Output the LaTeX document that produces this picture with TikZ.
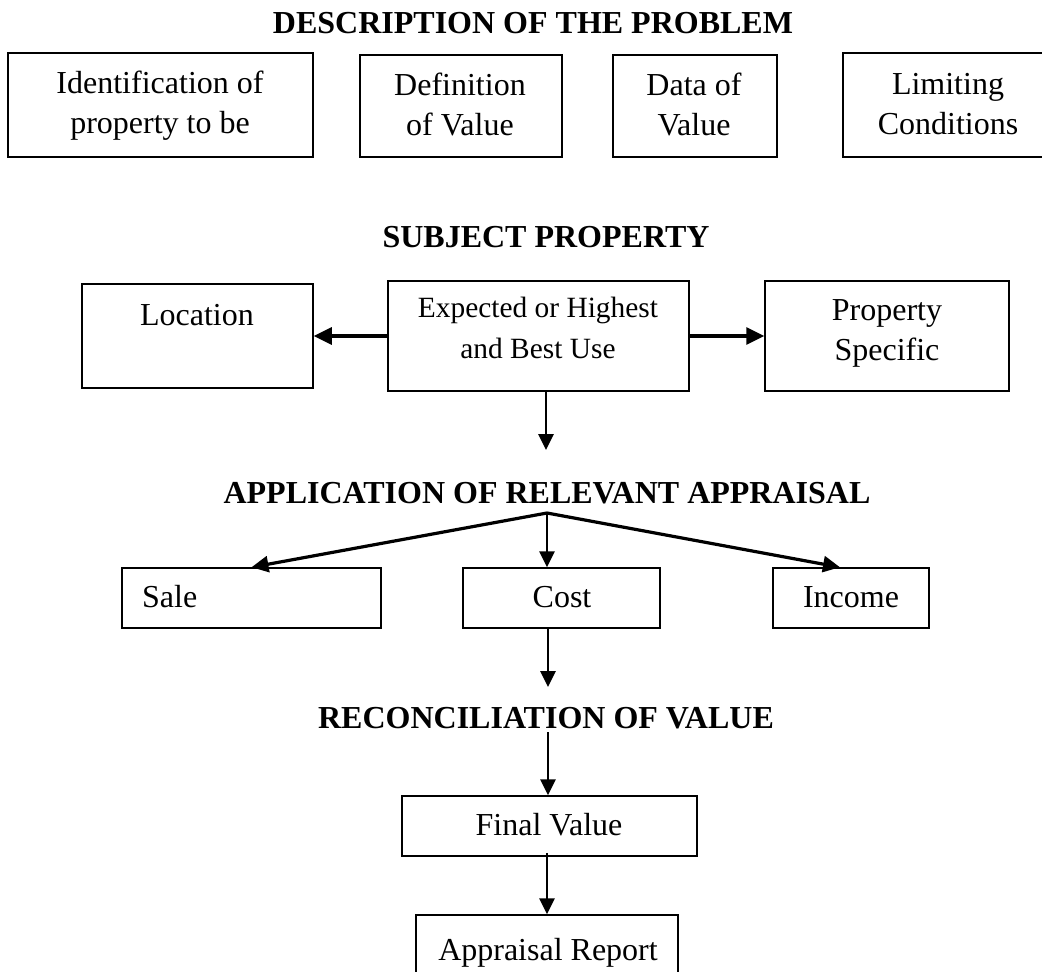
\documentclass[tikz,border=0pt]{standalone}
\usepackage{fontspec}
\setmainfont{Liberation Serif}
\usetikzlibrary{arrows.meta}
\begin{document}
\begin{tikzpicture}[x=1pt,y=-1pt,
  box/.style={draw, line width=1.5pt, inner sep=0pt},
  txt/.style={inner sep=0pt, font=\fontsize{32}{40}\selectfont, align=center},
  stxt/.style={inner sep=0pt, font=\fontsize{29.4}{41}\selectfont, align=center},
  ttl/.style={inner sep=0pt, font=\fontsize{32}{40}\selectfont\bfseries, anchor=base},
  arr/.style={-{Triangle[length=16pt,width=15pt]}, line width=2.8pt},
  harr/.style={-{Triangle[length=18pt,width=17pt]}, line width=3.2pt},
  darr/.style={-{Triangle[length=17pt,width=16pt]}, line width=3.2pt}]
\useasboundingbox (0,0) rectangle (1042,972);
\clip (0,0) rectangle (1042,972);

% titles
\node[ttl] (t1) at (533,33) {DESCRIPTION OF THE PROBLEM};
\node[ttl] (t2) at (546,247) {SUBJECT PROPERTY};
\node[ttl] (t3) at (547,503) {APPLICATION OF RELEVANT APPRAISAL};
\node[ttl] (t4) at (546,728) {RECONCILIATION OF VALUE};

% row 1
\node[box, minimum width=305pt, minimum height=104pt] (b1) at (160.5,105) {};
\node[box, minimum width=202pt, minimum height=102pt] (b2) at (461,106) {};
\node[box, minimum width=164pt, minimum height=102pt] (b3) at (695,106) {};
\node[box, minimum width=212pt, minimum height=104pt] (b4) at (949,105) {};
\node[txt, anchor=north] (tb1) at (160,71) {Identification of\\property to be};
\node[txt, anchor=north] (tb2) at (460,73) {Definition\\of Value};
\node[txt, anchor=north] (tb3) at (694,73) {Data of\\Value};
\node[txt, anchor=north] (tb4) at (948,73) {Limiting\\Conditions};

% row 2
\node[box, minimum width=231pt, minimum height=104pt] (loc) at (197.5,336) {};
\node[box, minimum width=301pt, minimum height=110pt] (hbu) at (538.5,336) {};
\node[box, minimum width=244pt, minimum height=110pt] (ps) at (887,336) {};
\node[txt, anchor=base] (tloc) at (197,325) {Location};
\node[stxt, anchor=north] (thbu) at (538,297) {Expected or Highest\\and Best Use};
\node[txt, anchor=north] (tps) at (887,299) {Property\\Specific};

% row 3
\node[box, minimum width=259pt, minimum height=60pt] (sale) at (251.5,598) {};
\node[box, minimum width=197pt, minimum height=60pt] (cost) at (561.5,598) {};
\node[box, minimum width=156pt, minimum height=60pt] (inc) at (851,598) {};
\node[txt, anchor=base west] (tsale) at (142,607) {Sale};
\node[txt, anchor=base] (tcost) at (562,607) {Cost};
\node[txt, anchor=base] (tinc) at (851,607) {Income};

% final
\node[box, minimum width=295pt, minimum height=60pt] (final) at (549.5,826) {};
\node[box, minimum width=262pt, minimum height=85pt] (report) at (547,957.5) {};
\node[txt, anchor=base] (tfinal) at (549,835) {Final Value};
\node[txt, anchor=base] (treport) at (548,960) {Appraisal Report};

% connectors
\draw[harr] (hbu.west) -- (hbu.west -| loc.east);
\draw[harr] (hbu.east) -- (hbu.east -| ps.west);
\coordinate (a1) at (546,450);
\draw[arr] (hbu.south -| a1) -- (a1);
\coordinate (br) at (547,513);
\draw[darr] (br) -- (sale.north);
\draw[arr] (br) -- (br |- cost.north);
\draw[darr] (br) -- ([xshift=-11pt]inc.north);
\coordinate (a2) at (548,687);
\draw[arr] (cost.south -| a2) -- (a2);
\coordinate (a3) at (548,732);
\draw[arr] (a3) -- (a3 |- final.north);
\draw[arr] ([yshift=4pt]report.north |- final.south) -- (report.north);
\end{tikzpicture}
\end{document}
